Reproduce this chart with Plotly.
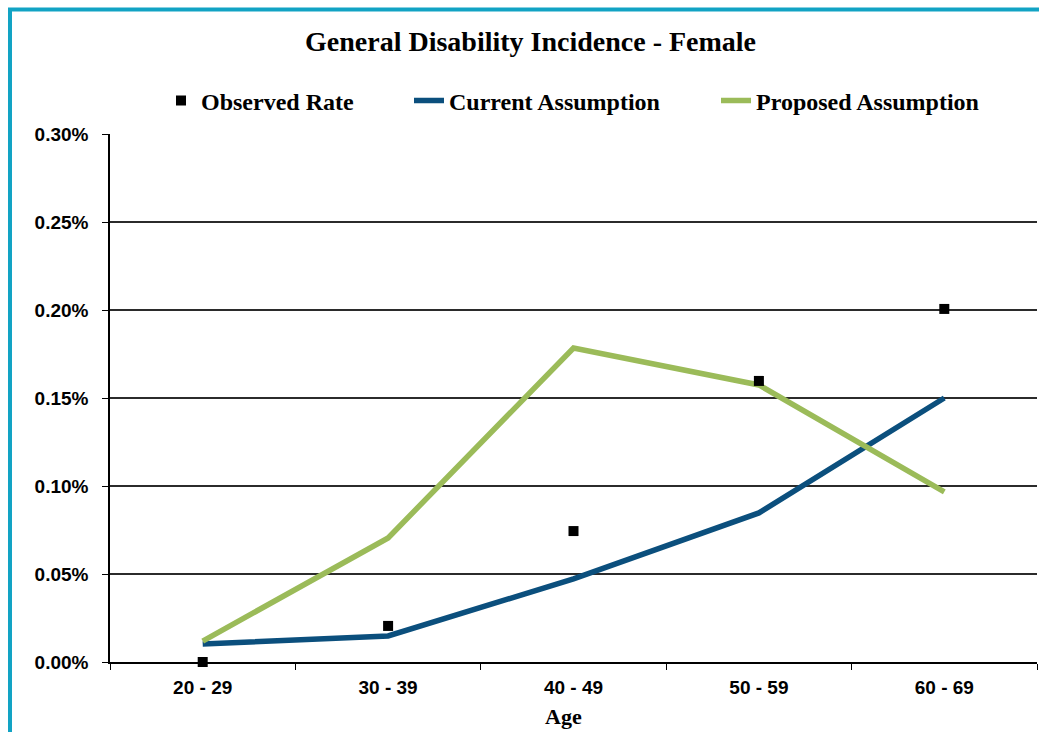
import plotly.graph_objects as go

# Age bands and incidence rates (as fractions)
age_bands = ["20 - 29", "30 - 39", "40 - 49", "50 - 59", "60 - 69"]
observed_rate = [0.0000, 0.000205, 0.000744, 0.001597, 0.002006]
current_assumption = [0.000102, 0.000148, 0.000472, 0.000847, 0.001500]
proposed_assumption = [0.000119, 0.000705, 0.001784, 0.001574, 0.000966]

W, H = 1039, 732
L, R, T, B = 110, 2, 134, 70
PW, PH = W - L - R, H - T - B

def px_x(p):
    return (p - L) / PW

def px_y(p):
    return (H - B - p) / PH

SERIF = "Liberation Serif, Times New Roman, serif"
SANS = "Liberation Sans, Arial, sans-serif"
BLUE = "#0b4f7d"
GREEN = "#9bbb59"

fig = go.Figure()
fig.add_trace(go.Scatter(
    x=age_bands, y=current_assumption, name="Current Assumption", mode="lines",
    line=dict(color=BLUE, width=5.5), legend="legend2",
))
fig.add_trace(go.Scatter(
    x=age_bands, y=proposed_assumption, name="Proposed Assumption", mode="lines",
    line=dict(color=GREEN, width=5.5), legend="legend3",
))
fig.add_trace(go.Scatter(
    x=age_bands, y=observed_rate, name="Observed Rate", mode="markers",
    marker=dict(symbol="square", size=10, color="black"), legend="legend",
    cliponaxis=False,
))

legend_font = dict(family=SERIF, size=24, color="black", weight="bold")
common_legend = dict(font=legend_font, bgcolor="rgba(0,0,0,0)", borderwidth=0,
                     yanchor="middle", xanchor="left", orientation="h")

tick_font = dict(family=SANS, size=19, color="black", weight="bold")

fig.update_layout(
    width=W, height=H,
    margin=dict(l=L, r=R, t=T, b=B),
    paper_bgcolor="white", plot_bgcolor="white",
    showlegend=True,
    legend=dict(x=px_x(161), y=px_y(101), **common_legend),
    legend2=dict(x=px_x(409), y=px_y(101), **common_legend),
    legend3=dict(x=px_x(716), y=px_y(101), **common_legend),
    xaxis=dict(
        type="category", range=[-0.5, 4.5], showgrid=False,
        showline=True, linecolor="black", linewidth=1.5,
        ticks="outside", tickson="boundaries", ticklen=6, tickcolor="black",
        tickfont=tick_font, ticklabelstandoff=7,
    ),
    yaxis=dict(
        range=[0, 0.003], dtick=0.0005, tickformat=".2%",
        showgrid=True, gridcolor="#2b2b2b", gridwidth=1.5,
        showline=True, linecolor="black", linewidth=1.5,
        ticks="outside", ticklen=6, tickcolor="black",
        tickfont=tick_font, ticklabelstandoff=10, zeroline=False,
    ),
    annotations=[
        dict(text="General Disability Incidence - Female", x=px_x(530), y=px_y(42),
             xref="paper", yref="paper", showarrow=False, xanchor="center", yanchor="middle",
             font=dict(family=SERIF, size=28, color="black", weight="bold")),
        dict(text="Age", x=px_x(563), y=px_y(716),
             xref="paper", yref="paper", showarrow=False, xanchor="center", yanchor="middle",
             font=dict(family=SERIF, size=22, color="black", weight="bold")),
    ],
    shapes=[
        dict(type="rect", xref="paper", yref="paper",
             x0=px_x(10), x1=px_x(1100), y0=px_y(800), y1=px_y(9.5),
             line=dict(color="#12a3c4", width=4), fillcolor="rgba(0,0,0,0)", layer="below"),
    ],
)

fig.write_html("out.html")
